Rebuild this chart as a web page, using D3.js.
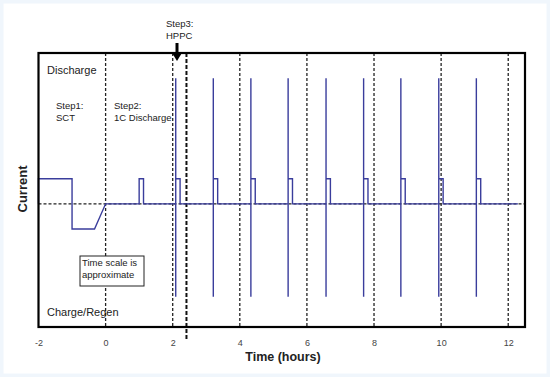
<!DOCTYPE html>
<html>
<head>
<meta charset="utf-8">
<script src="https://cdn.jsdelivr.net/npm/d3@7"></script>
<style>
  body { margin: 0; background: #fff; }
  svg text { font-family: "Liberation Sans", Arial, sans-serif; fill: #222; }
</style>
</head>
<body>
<div id="chart"></div>
<script>
// test profile data (time in hours, current in relative units)
const sctTimes   = [-2, -2, -1, -1, -0.33, 0];
const sctCurrent = [0, 1, 1, -1, -1, 0];
const dischargePulses = [1.0];
const hppcTimes = [2.09, 3.21, 4.33, 5.44, 6.57, 7.69, 8.80, 9.93, 11.05];
const pulseLength = 0.13;
const pulseLevel = 1;
const spikeHigh = 5, spikeLow = -3.7;
const profileEnd = 12.29;
const stepBoundary = 2.41;
const xTicks = [-2, 0, 2, 4, 6, 8, 10, 12];
const gridTimes = [0, 2, 4, 6, 8, 10, 12];

(() => {
    const width = 550, height = 377;

    const x = d3.scaleLinear().domain([-2, 12.5]).range([38.5, 525]);
    const y = d3.scaleLinear().domain([-4.9, 6.0]).range([327, 53]);

    const svg = d3.select("#chart").append("svg")
        .attr("width", width)
        .attr("height", height);

    // faint outer border of the original picture
    svg.append("rect")
        .attr("x", 1.5).attr("y", 1.5)
        .attr("width", width - 3).attr("height", height - 3)
        .attr("fill", "#fff")
        .attr("stroke", "#f0f6fc")
        .attr("stroke-width", 4);

    // build the current profile
    const pts = sctTimes.map((t, i) => [t, sctCurrent[i]]);
    dischargePulses.forEach(t => {
        pts.push([t, 0], [t, pulseLevel], [t + pulseLength, pulseLevel], [t + pulseLength, 0]);
    });
    hppcTimes.forEach(t => {
        pts.push([t, 0], [t, spikeLow], [t, spikeHigh], [t, pulseLevel],
                 [t + pulseLength, pulseLevel], [t + pulseLength, 0]);
    });
    pts.push([profileEnd, 0]);

    // dashed grid
    svg.selectAll(".grid")
        .data(gridTimes)
        .enter().append("line")
        .attr("class", "grid")
        .attr("x1", d => x(d)).attr("x2", d => x(d))
        .attr("y1", y(6.0)).attr("y2", y(-4.9))
        .attr("stroke", "#222")
        .attr("stroke-width", 1.3)
        .attr("stroke-dasharray", "3,2");

    svg.append("line")
        .attr("x1", x(-2)).attr("x2", x(12.5))
        .attr("y1", y(0)).attr("y2", y(0))
        .attr("stroke", "#222")
        .attr("stroke-width", 1.3)
        .attr("stroke-dasharray", "3,2");

    // step 3 boundary
    svg.append("line")
        .attr("x1", x(stepBoundary)).attr("x2", x(stepBoundary))
        .attr("y1", y(6.0)).attr("y2", 341)
        .attr("stroke", "#111")
        .attr("stroke-width", 2)
        .attr("stroke-dasharray", "4,2");

    // profile line
    svg.append("path")
        .datum(pts)
        .attr("fill", "none")
        .attr("stroke", "#3a3d9c")
        .attr("stroke-width", 1.4)
        .attr("d", d3.line().x(d => x(d[0])).y(d => y(d[1])));

    // frame
    svg.append("rect")
        .attr("x", x(-2)).attr("y", y(6.0))
        .attr("width", x(12.5) - x(-2))
        .attr("height", y(-4.9) - y(6.0))
        .attr("fill", "none")
        .attr("stroke", "#000")
        .attr("stroke-width", 2.2);

    // x axis labels
    const axis = svg.append("g")
        .attr("transform", `translate(0,${y(-4.9)})`)
        .call(d3.axisBottom(x).tickValues(xTicks).tickSize(0).tickPadding(13).tickFormat(d => String(d)));
    axis.select(".domain").remove();
    axis.selectAll("text")
        .style("font-family", "'Liberation Sans', Arial, sans-serif")
        .style("font-size", "9px")
        .style("fill", "#444");

    svg.append("text")
        .attr("x", 283).attr("y", 361)
        .attr("text-anchor", "middle")
        .style("font-size", "12.5px").style("font-weight", "bold")
        .text("Time (hours)");

    svg.append("text")
        .attr("transform", "translate(27,189) rotate(-90)")
        .attr("text-anchor", "middle")
        .style("font-size", "13px").style("font-weight", "bold")
        .text("Current");

    // annotations
    const notes = [
        { t: "Discharge", x: 47, y: 74, s: 11 },
        { t: "Charge/Regen", x: 47, y: 316, s: 11 },
        { t: "Step1:", x: 56, y: 109, s: 9.5 },
        { t: "SCT", x: 56, y: 121, s: 9.5 },
        { t: "Step2:", x: 114, y: 109, s: 9.5 },
        { t: "1C Discharge", x: 114, y: 121, s: 9.5 },
        { t: "Step3:", x: 166, y: 27, s: 9.5 },
        { t: "HPPC", x: 166, y: 39, s: 9.5 }
    ];
    svg.selectAll(".note")
        .data(notes)
        .enter().append("text")
        .attr("class", "note")
        .attr("x", d => d.x).attr("y", d => d.y)
        .style("font-size", d => d.s + "px")
        .text(d => d.t);

    // arrow into step 3
    svg.append("line")
        .attr("x1", 177).attr("x2", 177)
        .attr("y1", 43).attr("y2", 54)
        .attr("stroke", "#000").attr("stroke-width", 3);
    svg.append("path")
        .attr("d", "M171.5,52 L182.5,52 L177,61 Z")
        .attr("fill", "#000");

    // time scale note box
    svg.append("rect")
        .attr("x", 80).attr("y", 256)
        .attr("width", 64).attr("height", 30)
        .attr("fill", "#fff")
        .attr("stroke", "#222")
        .attr("stroke-width", 1);
    svg.append("text").attr("x", 82).attr("y", 266)
        .style("font-size", "9.5px").text("Time scale is");
    svg.append("text").attr("x", 82).attr("y", 278)
        .style("font-size", "9.5px").text("approximate");
})();
</script>
</body>
</html>
